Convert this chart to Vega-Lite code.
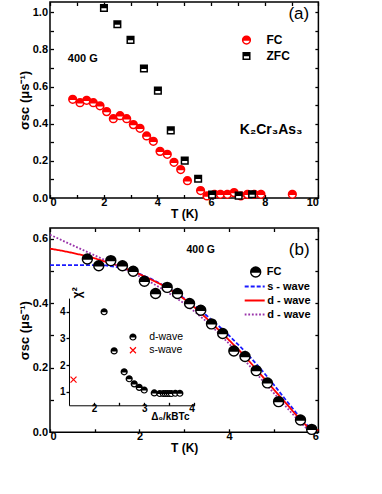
{
  "$schema": "https://vega.github.io/schema/vega-lite/v6.json",
  "background": "white",
  "padding": {"left": 17, "top": 0, "right": 0, "bottom": 0},
  "spacing": 5,
  "config": {
    "font": "Liberation Sans",
    "view": {"stroke": "black", "strokeWidth": 1.5},
    "axis": {"grid": false, "domain": false, "tickColor": "black", "tickWidth": 1.3, "tickSize": -3.5, "labelColor": "black", "labelFont": "Liberation Sans", "labelFontSize": 11, "labelFontWeight": "bold", "titleColor": "black", "titleFont": "Liberation Sans", "titleFontSize": 12, "titleFontWeight": "bold"},
    "axisX": {"labelPadding": 2, "titlePadding": 1},
    "axisY": {"labelPadding": 6, "titlePadding": 1},
    "legend": {"padding": 0, "labelFont": "Liberation Sans", "labelColor": "black"}
  },
  "resolve": {
    "scale": {"stroke": "independent", "shape": "independent", "strokeDash": "independent"},
    "legend": {"stroke": "independent", "shape": "independent", "strokeDash": "independent"}
  },
  "datasets": {
    "a": [
      {"T": 0.845, "sigma": 0.531, "series": "FC"},
      {"T": 1.118, "sigma": 0.513, "series": "FC"},
      {"T": 1.366, "sigma": 0.526, "series": "FC"},
      {"T": 1.615, "sigma": 0.513, "series": "FC"},
      {"T": 1.863, "sigma": 0.496, "series": "FC"},
      {"T": 2.11, "sigma": 0.465, "series": "FC"},
      {"T": 2.36, "sigma": 0.427, "series": "FC"},
      {"T": 2.61, "sigma": 0.443, "series": "FC"},
      {"T": 2.857, "sigma": 0.427, "series": "FC"},
      {"T": 3.106, "sigma": 0.395, "series": "FC"},
      {"T": 3.354, "sigma": 0.375, "series": "FC"},
      {"T": 3.6, "sigma": 0.334, "series": "FC"},
      {"T": 3.85, "sigma": 0.305, "series": "FC"},
      {"T": 4.1, "sigma": 0.251, "series": "FC"},
      {"T": 4.37, "sigma": 0.235, "series": "FC"},
      {"T": 4.62, "sigma": 0.192, "series": "FC"},
      {"T": 4.87, "sigma": 0.153, "series": "FC"},
      {"T": 5.12, "sigma": 0.093, "series": "FC"},
      {"T": 5.61, "sigma": 0.04, "series": "FC"},
      {"T": 5.85, "sigma": 0.011, "series": "FC"},
      {"T": 6.13, "sigma": 0.02, "series": "FC"},
      {"T": 6.35, "sigma": 0.02, "series": "FC"},
      {"T": 6.61, "sigma": 0.02, "series": "FC"},
      {"T": 6.86, "sigma": 0.029, "series": "FC"},
      {"T": 7.11, "sigma": 0.011, "series": "FC"},
      {"T": 7.36, "sigma": 0.02, "series": "FC"},
      {"T": 7.61, "sigma": 0.02, "series": "FC"},
      {"T": 7.86, "sigma": 0.02, "series": "FC"},
      {"T": 9.03, "sigma": 0.02, "series": "FC"},
      {"T": 2.01, "sigma": 1.023, "series": "ZFC"},
      {"T": 2.51, "sigma": 0.935, "series": "ZFC"},
      {"T": 3.0, "sigma": 0.851, "series": "ZFC"},
      {"T": 3.5, "sigma": 0.697, "series": "ZFC"},
      {"T": 4.02, "sigma": 0.578, "series": "ZFC"},
      {"T": 4.5, "sigma": 0.364, "series": "ZFC"},
      {"T": 5.02, "sigma": 0.201, "series": "ZFC"},
      {"T": 5.52, "sigma": 0.104, "series": "ZFC"},
      {"T": 6.04, "sigma": 0.018, "series": "ZFC"},
      {"T": 7.03, "sigma": 0.013, "series": "ZFC"},
      {"T": 7.53, "sigma": 0.02, "series": "ZFC"}
    ],
    "bfc": [
      {"T": 0.835, "sigma": 0.537, "series": "FC"},
      {"T": 1.09, "sigma": 0.516, "series": "FC"},
      {"T": 1.36, "sigma": 0.532, "series": "FC"},
      {"T": 1.62, "sigma": 0.516, "series": "FC"},
      {"T": 1.86, "sigma": 0.499, "series": "FC"},
      {"T": 2.11, "sigma": 0.468, "series": "FC"},
      {"T": 2.36, "sigma": 0.43, "series": "FC"},
      {"T": 2.62, "sigma": 0.449, "series": "FC"},
      {"T": 2.85, "sigma": 0.43, "series": "FC"},
      {"T": 3.12, "sigma": 0.399, "series": "FC"},
      {"T": 3.37, "sigma": 0.378, "series": "FC"},
      {"T": 3.61, "sigma": 0.336, "series": "FC"},
      {"T": 3.86, "sigma": 0.306, "series": "FC"},
      {"T": 4.11, "sigma": 0.252, "series": "FC"},
      {"T": 4.36, "sigma": 0.235, "series": "FC"},
      {"T": 4.61, "sigma": 0.191, "series": "FC"},
      {"T": 4.86, "sigma": 0.153, "series": "FC"},
      {"T": 5.11, "sigma": 0.095, "series": "FC"},
      {"T": 5.6, "sigma": 0.038, "series": "FC"},
      {"T": 5.85, "sigma": 0.009, "series": "FC"}
    ],
    "bfit": [
      {"T": 0, "sigma": 0.518, "model": "s - wave"},
      {"T": 0.5, "sigma": 0.518, "model": "s - wave"},
      {"T": 1.0, "sigma": 0.518, "model": "s - wave"},
      {"T": 1.25, "sigma": 0.517, "model": "s - wave"},
      {"T": 1.5, "sigma": 0.512, "model": "s - wave"},
      {"T": 1.75, "sigma": 0.503, "model": "s - wave"},
      {"T": 2.0, "sigma": 0.491, "model": "s - wave"},
      {"T": 2.25, "sigma": 0.476, "model": "s - wave"},
      {"T": 2.5, "sigma": 0.458, "model": "s - wave"},
      {"T": 2.75, "sigma": 0.438, "model": "s - wave"},
      {"T": 3.0, "sigma": 0.415, "model": "s - wave"},
      {"T": 3.25, "sigma": 0.39, "model": "s - wave"},
      {"T": 3.5, "sigma": 0.362, "model": "s - wave"},
      {"T": 3.75, "sigma": 0.332, "model": "s - wave"},
      {"T": 4.0, "sigma": 0.3, "model": "s - wave"},
      {"T": 4.25, "sigma": 0.266, "model": "s - wave"},
      {"T": 4.5, "sigma": 0.229, "model": "s - wave"},
      {"T": 4.75, "sigma": 0.19, "model": "s - wave"},
      {"T": 5.0, "sigma": 0.148, "model": "s - wave"},
      {"T": 5.25, "sigma": 0.104, "model": "s - wave"},
      {"T": 5.5, "sigma": 0.061, "model": "s - wave"},
      {"T": 5.75, "sigma": 0.022, "model": "s - wave"},
      {"T": 5.9, "sigma": 0.0, "model": "s - wave"},
      {"T": 0, "sigma": 0.569, "model": "d - wave"},
      {"T": 0.25, "sigma": 0.563, "model": "d - wave"},
      {"T": 0.5, "sigma": 0.556, "model": "d - wave"},
      {"T": 0.75, "sigma": 0.548, "model": "d - wave"},
      {"T": 1.0, "sigma": 0.539, "model": "d - wave"},
      {"T": 1.25, "sigma": 0.528, "model": "d - wave"},
      {"T": 1.5, "sigma": 0.517, "model": "d - wave"},
      {"T": 1.75, "sigma": 0.504, "model": "d - wave"},
      {"T": 2.0, "sigma": 0.49, "model": "d - wave"},
      {"T": 2.25, "sigma": 0.474, "model": "d - wave"},
      {"T": 2.5, "sigma": 0.457, "model": "d - wave"},
      {"T": 2.75, "sigma": 0.436, "model": "d - wave"},
      {"T": 3.0, "sigma": 0.413, "model": "d - wave"},
      {"T": 3.25, "sigma": 0.385, "model": "d - wave"},
      {"T": 3.5, "sigma": 0.353, "model": "d - wave"},
      {"T": 3.75, "sigma": 0.32, "model": "d - wave"},
      {"T": 4.0, "sigma": 0.286, "model": "d - wave"},
      {"T": 4.25, "sigma": 0.251, "model": "d - wave"},
      {"T": 4.5, "sigma": 0.213, "model": "d - wave"},
      {"T": 4.75, "sigma": 0.173, "model": "d - wave"},
      {"T": 5.0, "sigma": 0.133, "model": "d - wave"},
      {"T": 5.25, "sigma": 0.094, "model": "d - wave"},
      {"T": 5.5, "sigma": 0.054, "model": "d - wave"},
      {"T": 5.75, "sigma": 0.018, "model": "d - wave"},
      {"T": 5.85, "sigma": 0.008, "model": "d - wave"},
      {"T": 6.0, "sigma": 0.007, "model": "d - wave"},
      {"T": 0, "sigma": 0.612, "model": "d - wave 2"},
      {"T": 0.25, "sigma": 0.596, "model": "d - wave 2"},
      {"T": 0.5, "sigma": 0.58, "model": "d - wave 2"},
      {"T": 0.75, "sigma": 0.564, "model": "d - wave 2"},
      {"T": 1.0, "sigma": 0.548, "model": "d - wave 2"},
      {"T": 1.25, "sigma": 0.532, "model": "d - wave 2"},
      {"T": 1.5, "sigma": 0.516, "model": "d - wave 2"},
      {"T": 1.75, "sigma": 0.5, "model": "d - wave 2"},
      {"T": 2.0, "sigma": 0.483, "model": "d - wave 2"},
      {"T": 2.25, "sigma": 0.465, "model": "d - wave 2"},
      {"T": 2.5, "sigma": 0.445, "model": "d - wave 2"},
      {"T": 2.75, "sigma": 0.423, "model": "d - wave 2"},
      {"T": 3.0, "sigma": 0.399, "model": "d - wave 2"},
      {"T": 3.25, "sigma": 0.372, "model": "d - wave 2"},
      {"T": 3.5, "sigma": 0.343, "model": "d - wave 2"},
      {"T": 3.75, "sigma": 0.31, "model": "d - wave 2"},
      {"T": 4.0, "sigma": 0.275, "model": "d - wave 2"},
      {"T": 4.25, "sigma": 0.238, "model": "d - wave 2"},
      {"T": 4.5, "sigma": 0.2, "model": "d - wave 2"},
      {"T": 4.75, "sigma": 0.161, "model": "d - wave 2"},
      {"T": 5.0, "sigma": 0.122, "model": "d - wave 2"},
      {"T": 5.25, "sigma": 0.083, "model": "d - wave 2"},
      {"T": 5.5, "sigma": 0.045, "model": "d - wave 2"},
      {"T": 5.75, "sigma": 0.01, "model": "d - wave 2"},
      {"T": 5.82, "sigma": 0.0, "model": "d - wave 2"}
    ],
    "inset": [
      {"ratio": 2.2, "chi2": 3.99, "model": "d-wave"},
      {"ratio": 2.4, "chi2": 2.53, "model": "d-wave"},
      {"ratio": 2.6, "chi2": 1.75, "model": "d-wave"},
      {"ratio": 2.7, "chi2": 1.49, "model": "d-wave"},
      {"ratio": 2.8, "chi2": 1.3, "model": "d-wave"},
      {"ratio": 2.9, "chi2": 1.17, "model": "d-wave"},
      {"ratio": 3.0, "chi2": 1.07, "model": "d-wave"},
      {"ratio": 3.2, "chi2": 0.96, "model": "d-wave"},
      {"ratio": 3.31, "chi2": 0.94, "model": "d-wave"},
      {"ratio": 3.38, "chi2": 0.94, "model": "d-wave"},
      {"ratio": 3.42, "chi2": 0.94, "model": "d-wave"},
      {"ratio": 3.46, "chi2": 0.94, "model": "d-wave"},
      {"ratio": 3.5, "chi2": 0.94, "model": "d-wave"},
      {"ratio": 3.54, "chi2": 0.94, "model": "d-wave"},
      {"ratio": 3.62, "chi2": 0.95, "model": "d-wave"},
      {"ratio": 3.71, "chi2": 0.95, "model": "d-wave"},
      {"ratio": 1.59, "chi2": 1.46, "model": "s-wave"}
    ]
  },
  "vconcat": [
    {
      "width": 268.4,
      "height": 196,
      "layer": [
        {
          "data": {"name": "a"},
          "mark": {"type": "point", "filled": true, "fill": "white", "strokeWidth": 1.5, "opacity": 1, "size": 60},
          "encoding": {
            "x": {"field": "T", "type": "quantitative", "scale": {"domain": [0, 10], "nice": false},
              "axis": {"orient": "bottom", "values": [0, 1, 2, 3, 4, 5, 6, 7, 8, 9, 10], "labelExpr": "datum.value % 2 == 0 ? datum.label : ''", "title": "T (K)"}},
            "y": {"field": "sigma", "type": "quantitative", "scale": {"domain": [0, 1.055], "nice": false},
              "axis": {"orient": "left", "values": [0, 0.1, 0.2, 0.3, 0.4, 0.5, 0.6, 0.7, 0.8, 0.9, 1.0], "format": ".1f", "labelExpr": "round(datum.value * 10) % 2 == 0 ? datum.label : ''", "title": "σsc (μs⁻¹)", "titleFontSize": 13}},
            "stroke": {"field": "series", "type": "nominal", "scale": {"domain": ["FC", "ZFC"], "range": ["#ff0000", "#000000"]},
              "legend": {"title": null, "orient": "none", "legendX": 190.5, "legendY": 31.5, "symbolSize": 60, "symbolFillColor": "white", "symbolStrokeWidth": 1.5, "labelOffset": 14, "labelFontSize": 12, "labelFontWeight": "bold", "clipHeight": 13, "rowPadding": 3}},
            "shape": {"field": "series", "type": "nominal", "scale": {"domain": ["FC", "ZFC"], "range": ["M-1,0A1,1,0,1,1,1,0A1,1,0,1,1,-1,0ZM-1,0H1M-0.97,-0.25H0.97M-0.87,-0.5H0.87M-0.66,-0.75H0.66M-0.3,-0.95H0.3", "M-0.85,-0.85H0.85V0.85H-0.85ZM-0.85,-0.6H0.85M-0.85,-0.35H0.85M-0.85,-0.1H0.85"]},
              "legend": {"title": null, "orient": "none", "legendX": 190.5, "legendY": 31.5, "symbolSize": 60, "symbolFillColor": "white", "symbolStrokeWidth": 1.5, "labelOffset": 14, "labelFontSize": 12, "labelFontWeight": "bold", "clipHeight": 13, "rowPadding": 3}}
          }
        },
        {
          "data": {"values": [{}]},
          "mark": {"type": "text", "fontSize": 17, "font": "Liberation Sans", "align": "center", "baseline": "middle", "color": "black"},
          "encoding": {
            "x": {"datum": 9.27, "type": "quantitative", "axis": {"orient": "top", "values": [0, 1, 2, 3, 4, 5, 6, 7, 8, 9, 10], "labels": false, "title": null}},
            "y": {"datum": 0.991, "type": "quantitative", "axis": {"orient": "right", "values": [0, 0.1, 0.2, 0.3, 0.4, 0.5, 0.6, 0.7, 0.8, 0.9, 1.0], "labels": false, "title": null}},
            "text": {"value": "(a)"}
          }
        },
        {
          "data": {"values": [{}]},
          "mark": {"type": "text", "fontSize": 11, "fontWeight": "bold", "font": "Liberation Sans", "align": "center", "baseline": "middle", "color": "black"},
          "encoding": {
            "x": {"datum": 1.22, "type": "quantitative", "axis": null},
            "y": {"datum": 0.747, "type": "quantitative", "axis": null},
            "text": {"value": "400 G"}
          }
        },
        {
          "data": {"values": [{}]},
          "mark": {"type": "text", "fontSize": 14, "fontWeight": "bold", "font": "Liberation Sans", "align": "center", "baseline": "middle", "color": "black"},
          "encoding": {
            "x": {"datum": 8.24, "type": "quantitative", "axis": null},
            "y": {"datum": 0.366, "type": "quantitative", "axis": null},
            "text": {"value": "K₂Cr₃As₃"}
          }
        }
      ],
      "resolve": {"axis": {"x": "independent", "y": "independent"}}
    },
    {
      "width": 268.4,
      "height": 204.3,
      "layer": [
        {
          "layer": [
            {
              "data": {"name": "bfit"},
              "mark": {"type": "line", "strokeWidth": 1.8},
              "encoding": {
                "x": {"field": "T", "type": "quantitative", "scale": {"domain": [0, 6], "nice": false},
                  "axis": {"orient": "top", "values": [0, 1, 2, 3, 4, 5, 6], "labels": false, "title": null}},
                "y": {"field": "sigma", "type": "quantitative", "scale": {"domain": [0, 0.633], "nice": false},
                  "axis": {"orient": "right", "values": [0, 0.1, 0.2, 0.3, 0.4, 0.5, 0.6], "labels": false, "title": null}},
                "stroke": {"field": "model", "type": "nominal", "scale": {"domain": ["s - wave", "d - wave", "d - wave 2"], "range": ["#1a1aff", "#ff0000", "#9933aa"]},
                  "legend": {"title": null, "orient": "none", "legendX": 193.7, "legendY": 52.6, "symbolType": "stroke", "symbolSize": 400, "symbolStrokeWidth": 2, "labelOffset": 1.5, "labelFontSize": 11, "labelFontWeight": "bold", "clipHeight": 12, "rowPadding": 2, "labelExpr": "datum.label == 'd - wave 2' ? 'd - wave' : datum.label",
                    "encode": {"symbols": {"update": {"strokeDash": {"signal": "datum.value == 's - wave' ? [4, 2] : (datum.value == 'd - wave 2' ? [1.8, 1.8] : [1, 0])"}}}}}},
                "strokeDash": {"field": "model", "type": "nominal", "scale": {"domain": ["s - wave", "d - wave", "d - wave 2"], "range": [[4, 2], [1, 0], [1.8, 1.8]]}, "legend": null}
              }
            },
            {
              "data": {"values": [{}]},
              "mark": {"type": "text", "fontSize": 10.5, "fontWeight": "bold", "font": "Liberation Sans", "align": "center", "baseline": "middle", "color": "black"},
              "encoding": {
                "x": {"datum": 3.37, "type": "quantitative", "axis": null},
                "y": {"datum": 0.566, "type": "quantitative", "axis": null},
                "text": {"value": "400 G"}
              }
            },
            {
              "data": {"values": [{}]},
              "mark": {"type": "text", "fontSize": 17, "font": "Liberation Sans", "align": "center", "baseline": "middle", "color": "black"},
              "encoding": {
                "x": {"datum": 5.57, "type": "quantitative", "axis": null},
                "y": {"datum": 0.566, "type": "quantitative", "axis": null},
                "text": {"value": "(b)"}
              }
            }
          ],
          "resolve": {"axis": {"x": "independent", "y": "independent"}}
        },
        {
          "data": {"name": "bfc"},
          "mark": {"type": "point", "filled": true, "fill": "white", "strokeWidth": 1.4, "opacity": 1, "size": 100},
          "encoding": {
            "x": {"field": "T", "type": "quantitative", "scale": {"domain": [0, 6], "nice": false},
              "axis": {"orient": "bottom", "values": [0, 1, 2, 3, 4, 5, 6], "labelExpr": "datum.value % 2 == 0 ? datum.label : ''", "title": "T (K)"}},
            "y": {"field": "sigma", "type": "quantitative", "scale": {"domain": [0, 0.633], "nice": false},
              "axis": {"orient": "left", "values": [0, 0.1, 0.2, 0.3, 0.4, 0.5, 0.6], "format": ".1f", "labelExpr": "round(datum.value * 10) % 2 == 0 ? datum.label : ''", "title": "σsc (μs⁻¹)", "titleFontSize": 13}},
            "stroke": {"field": "series", "type": "nominal", "scale": {"domain": ["FC"], "range": ["#000000"]},
              "legend": {"title": null, "orient": "none", "legendX": 199.7, "legendY": 38, "symbolSize": 100, "symbolFillColor": "white", "symbolStrokeWidth": 1.4, "labelOffset": 5, "labelFontSize": 11, "labelFontWeight": "bold", "clipHeight": 12}},
            "shape": {"field": "series", "type": "nominal", "scale": {"domain": ["FC"], "range": ["M-1,0A1,1,0,1,1,1,0A1,1,0,1,1,-1,0ZM-1,0H1M-0.97,-0.25H0.97M-0.87,-0.5H0.87M-0.66,-0.75H0.66M-0.3,-0.95H0.3"]},
              "legend": {"title": null, "orient": "none", "legendX": 199.7, "legendY": 38, "symbolSize": 100, "symbolFillColor": "white", "symbolStrokeWidth": 1.4, "labelOffset": 5, "labelFontSize": 11, "labelFontWeight": "bold", "clipHeight": 12}}
          }
        },
        {
          "data": {"name": "inset"},
          "mark": {"type": "point", "filled": true, "fill": "white", "strokeWidth": 1.2, "opacity": 1, "size": 36},
          "encoding": {
            "x": {"field": "ratio", "type": "quantitative", "scale": {"domain": [1.5, 4], "range": [19, 144.4], "nice": false, "zero": false},
              "axis": {"orient": "bottom", "offset": -27, "values": [2, 2.5, 3, 3.5, 4], "labelExpr": "datum.value % 1 == 0 ? format(datum.value, 'd') : ''", "tickSize": -3, "domain": true, "domainColor": "black", "domainWidth": 1, "labelFontSize": 10, "labelPadding": 1, "title": "Δ₀/kBTc", "titleFontSize": 10, "titleX": 139, "titleY": 11, "titleAlign": "right", "titleBaseline": "middle"}},
            "y": {"field": "chi2", "type": "quantitative", "scale": {"domain": [0.5, 4.5], "range": [177.3, 70.1], "nice": false, "zero": false},
              "axis": {"orient": "left", "offset": -19, "values": [1, 2, 3, 4], "tickSize": 3, "domain": true, "domainColor": "black", "domainWidth": 1, "labelFontSize": 10, "labelPadding": 1, "title": "χ²", "titleFontSize": 12, "titleX": 8, "titleY": 64.3, "titleAngle": 270, "titleAlign": "center", "titleBaseline": "middle"}},
            "stroke": {"field": "model", "type": "nominal", "scale": {"domain": ["d-wave", "s-wave"], "range": ["#000000", "#ff0000"]},
              "legend": {"title": null, "orient": "none", "legendX": 77.7, "legendY": 103.5, "symbolSize": 36, "symbolFillColor": "white", "symbolStrokeWidth": 1.2, "labelOffset": 11, "labelFontSize": 10.5, "clipHeight": 11, "rowPadding": 2.3}},
            "shape": {"field": "model", "type": "nominal", "scale": {"domain": ["d-wave", "s-wave"], "range": ["M-1,0A1,1,0,1,1,1,0A1,1,0,1,1,-1,0ZM-1,0H1M-0.9,-0.4H0.9M-0.6,-0.8H0.6", "M-1,-1L1,1M-1,1L1,-1"]},
              "legend": {"title": null, "orient": "none", "legendX": 77.7, "legendY": 103.5, "symbolSize": 36, "symbolFillColor": "white", "symbolStrokeWidth": 1.2, "labelOffset": 11, "labelFontSize": 10.5, "clipHeight": 11, "rowPadding": 2.3}}
          }
        }
      ],
      "resolve": {
        "scale": {"x": "independent", "y": "independent", "shape": "independent", "stroke": "independent"},
        "axis": {"x": "independent", "y": "independent"},
        "legend": {"shape": "independent", "stroke": "independent"}
      }
    }
  ]
}
